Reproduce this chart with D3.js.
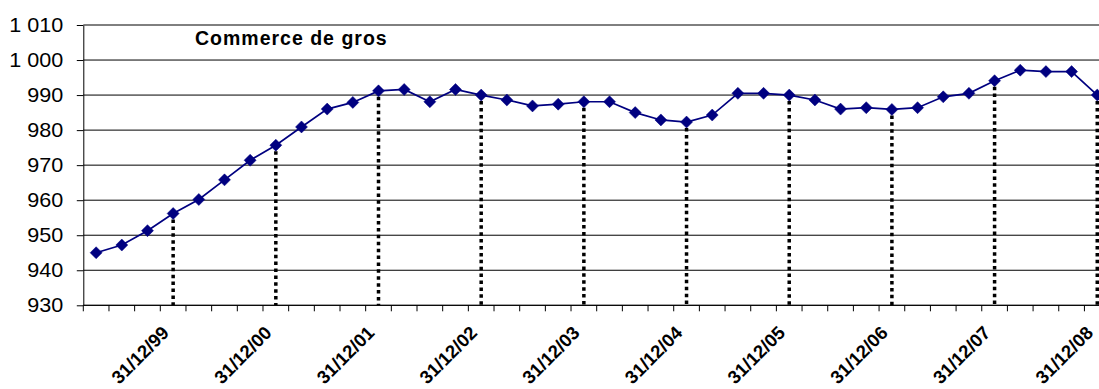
<!DOCTYPE html>
<html>
<head>
<meta charset="utf-8">
<script src="https://cdn.jsdelivr.net/npm/d3@7"></script>
<style>
  body { margin: 0; background: #fff; }
  svg { display: block; }
</style>
</head>
<body>
<svg id="chart" width="1099" height="389"></svg>
<script>
// Quarter-end dates (one point per quarter)
const quarters = [
  "31/03/99","30/06/99","30/09/99","31/12/99",
  "31/03/00","30/06/00","30/09/00","31/12/00",
  "31/03/01","30/06/01","30/09/01","31/12/01",
  "31/03/02","30/06/02","30/09/02","31/12/02",
  "31/03/03","30/06/03","30/09/03","31/12/03",
  "31/03/04","30/06/04","30/09/04","31/12/04",
  "31/03/05","30/06/05","30/09/05","31/12/05",
  "31/03/06","30/06/06","30/09/06","31/12/06",
  "31/03/07","30/06/07","30/09/07","31/12/07",
  "31/03/08","30/06/08","30/09/08","31/12/08"
];

// Wholesale trade series values
const values = [
  945.0, 947.2, 951.3, 956.2,
  960.2, 965.8, 971.4, 975.7,
  980.9, 986.0, 987.9, 991.2,
  991.6, 988.1, 991.6, 990.0,
  988.6, 986.9, 987.4, 988.1,
  988.1, 985.0, 982.9, 982.3,
  984.3, 990.5, 990.5, 990.0,
  988.6, 986.0, 986.4, 985.9,
  986.4, 989.5, 990.5, 994.1,
  997.1, 996.7, 996.7, 990.0
];

// Year-end categories that get a label and a drop line
const xLabels = [
  "31/12/99","31/12/00","31/12/01","31/12/02","31/12/03",
  "31/12/04","31/12/05","31/12/06","31/12/07","31/12/08"
];

// Value axis ticks
const yTicks = [930, 940, 950, 960, 970, 980, 990, 1000, 1010];

const title = "Commerce de gros";

const svg = d3.select("#chart");
const plotLeft = 83.3, plotTop = 25, plotBottom = 305.3;
const bandW = 25.67;
const plotRight = plotLeft + bandW * quarters.length;

const x = d3.scaleBand().domain(quarters).range([plotLeft, plotRight]).padding(0);
const y = d3.scaleLinear().domain([930, 1010]).range([plotBottom, plotTop]);
const cx = d => x(d) + x.bandwidth() / 2;

const fmt = d3.formatLocale({ decimal: ",", thousands: " ", grouping: [3], currency: ["", " €"] }).format(",d");
const font = "'Liberation Sans', Arial, Helvetica, sans-serif";

// Horizontal gridlines
svg.append("g")
  .selectAll("line")
  .data(yTicks)
  .join("line")
  .attr("x1", plotLeft).attr("x2", plotRight)
  .attr("y1", d => y(d)).attr("y2", d => y(d))
  .attr("stroke", "#000").attr("stroke-width", 1);

// Value axis
const yAxis = svg.append("g")
  .attr("transform", `translate(${plotLeft},0)`)
  .call(d3.axisLeft(y).tickValues(yTicks).tickSize(6.5).tickSizeOuter(0).tickFormat(fmt));
yAxis.select(".domain").attr("stroke", "#000");
yAxis.selectAll(".tick line").attr("stroke", "#000");
yAxis.selectAll(".tick text")
  .attr("x", null)
  .attr("dy", "0.3em")
  .attr("transform", "translate(-20,0) scale(1.08,1)")
  .attr("fill", "#000")
  .style("font", `20px ${font}`);

// Category axis line and tick marks at quarter boundaries
const xAxis = svg.append("g");
xAxis.append("line")
  .attr("x1", plotLeft).attr("x2", plotRight)
  .attr("y1", plotBottom).attr("y2", plotBottom)
  .attr("stroke", "#000");
xAxis.selectAll(".qtick")
  .data(quarters.map(q => x(q)).concat([plotRight]))
  .join("line")
  .attr("class", "qtick")
  .attr("x1", d => d).attr("x2", d => d)
  .attr("y1", plotBottom).attr("y2", plotBottom + 6)
  .attr("stroke", "#000");

// Rotated year-end labels
xAxis.selectAll(".xlab")
  .data(xLabels)
  .join("text")
  .attr("class", "xlab")
  .attr("transform", d => `translate(${cx(d) - 3},334) rotate(-45)`)
  .attr("text-anchor", "end")
  .attr("fill", "#000")
  .style("font", `bold 18.5px ${font}`)
  .text(d => d);

const data = quarters.map((q, i) => ({ q, v: values[i] }));

// Dotted drop lines from year-end points to the axis
svg.append("g")
  .selectAll("line")
  .data(data.filter(d => xLabels.includes(d.q)))
  .join("line")
  .attr("x1", d => cx(d.q)).attr("x2", d => cx(d.q))
  .attr("y1", d => y(d.v) + 6).attr("y2", plotBottom)
  .attr("stroke", "#000")
  .attr("stroke-width", 3.5)
  .attr("stroke-dasharray", "3.5 3.4");

// Series line
svg.append("path")
  .datum(data)
  .attr("fill", "none")
  .attr("stroke", "#000080")
  .attr("stroke-width", 1.7)
  .attr("d", d3.line().x(d => cx(d.q)).y(d => y(d.v)));

// Diamond markers
const r = 6;
svg.append("g")
  .selectAll("path")
  .data(data)
  .join("path")
  .attr("transform", d => `translate(${cx(d.q)},${y(d.v)})`)
  .attr("d", `M0,${-r}L${r},0L0,${r}L${-r},0Z`)
  .attr("fill", "#000080")
  .attr("stroke", "#000080")
  .attr("stroke-width", 0.5);

// Chart title
svg.append("text")
  .attr("x", 195).attr("y", 45)
  .attr("fill", "#000")
  .style("font", `bold 19.5px ${font}`)
  .style("letter-spacing", "1px")
  .text(title);
</script>
</body>
</html>
